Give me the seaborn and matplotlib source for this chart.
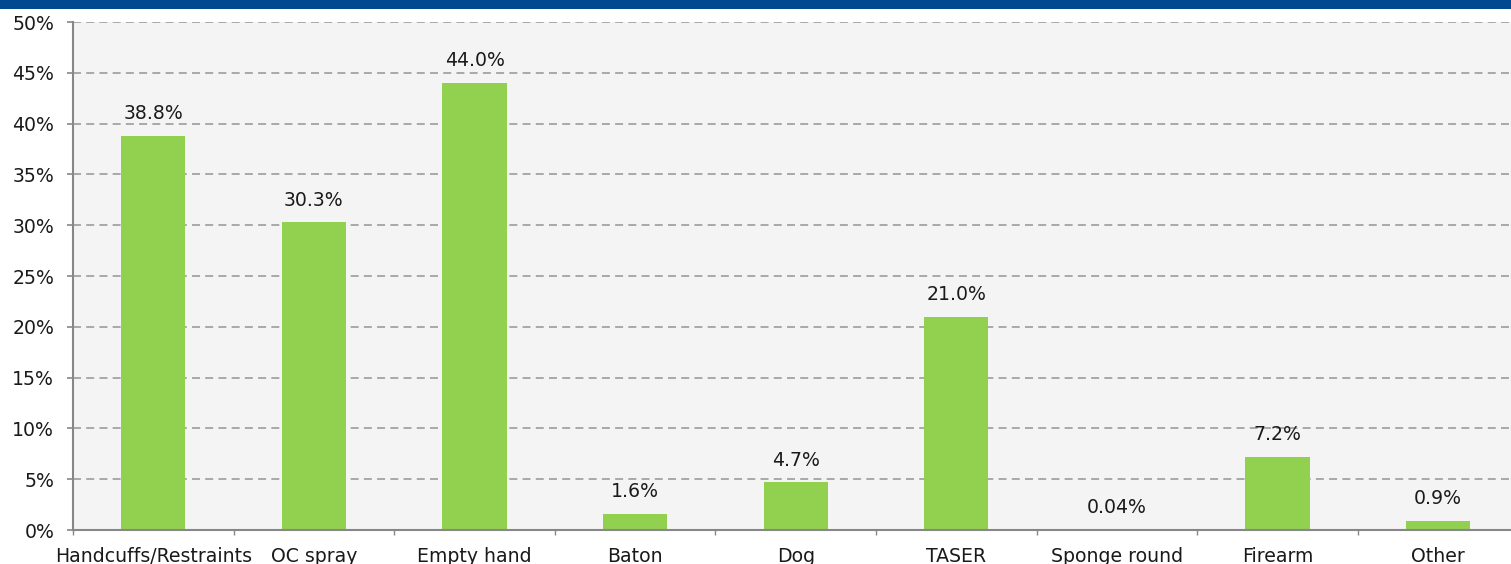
import matplotlib
matplotlib.use("Agg")
import matplotlib.pyplot as plt
import seaborn as sns
import pandas as pd
from matplotlib.patches import Rectangle
from matplotlib.ticker import FixedLocator, PercentFormatter

categories = ["Handcuffs/Restraints", "OC spray", "Empty hand", "Baton", "Dog",
              "TASER", "Sponge round", "Firearm", "Other"]
shares = [38.8, 30.3, 44.0, 1.6, 4.7, 21.0, 0.04, 7.2, 0.9]
y_ticks = [0, 5, 10, 15, 20, 25, 30, 35, 40, 45, 50]

sns.set_theme(style="white")
plt.rcParams["font.family"] = ["DejaVu Sans"]

df = pd.DataFrame({"tactic": categories, "share": shares})

fig = plt.figure(figsize=(15.11, 5.64), dpi=100)
fig.patch.set_facecolor("white")
# header band across the top
fig.patches.append(Rectangle((0, 1 - 9 / 564), 1, 9 / 564, transform=fig.transFigure,
                             facecolor="#00488F", edgecolor="none", zorder=0))

ax = fig.add_axes([73 / 1511, 34 / 564, 1445.5 / 1511, 508 / 564])
ax.set_facecolor("#F4F4F4")

sns.barplot(data=df, x="tactic", y="share", color="#92D050", saturation=1,
            width=0.4, linewidth=0, ax=ax, zorder=3)

ax.set_ylim(0, 50)
ax.set_xlim(-0.5, len(categories) - 0.5)
ax.yaxis.set_major_locator(FixedLocator(y_ticks))
ax.yaxis.set_major_formatter(PercentFormatter(decimals=0))
ax.grid(axis="y", color="#A8A8A8", linestyle=(0, (4.1, 2.7)), linewidth=1.4, zorder=0)
ax.set_axisbelow(True)

for side in ("top", "right"):
    ax.spines[side].set_visible(False)
for side in ("left", "bottom"):
    ax.spines[side].set_color("#878787")
    ax.spines[side].set_linewidth(1.5)
    ax.spines[side].set_zorder(4)

ax.tick_params(axis="y", which="major", length=4.5, width=1.2, color="#878787",
               pad=9, labelsize=13.6, labelcolor="#1A1A1A", left=True)
ax.tick_params(axis="x", which="major", length=0, pad=12.5, labelsize=13.6,
               labelcolor="#1A1A1A")
ax.xaxis.set_minor_locator(FixedLocator([i - 0.5 for i in range(len(categories) + 1)]))
ax.tick_params(axis="x", which="minor", length=3.5, width=1.0, color="#878787",
               bottom=True)

ax.set_xlabel("")
ax.set_ylabel("")

labels = [f"{v:.1f}%" if v >= 0.1 else f"{v:.2f}%" for v in shares]
ax.bar_label(ax.containers[0], labels=labels, padding=9, fontsize=13.6, color="#1A1A1A")

fig.savefig("out.png", dpi=100, facecolor=fig.get_facecolor())
